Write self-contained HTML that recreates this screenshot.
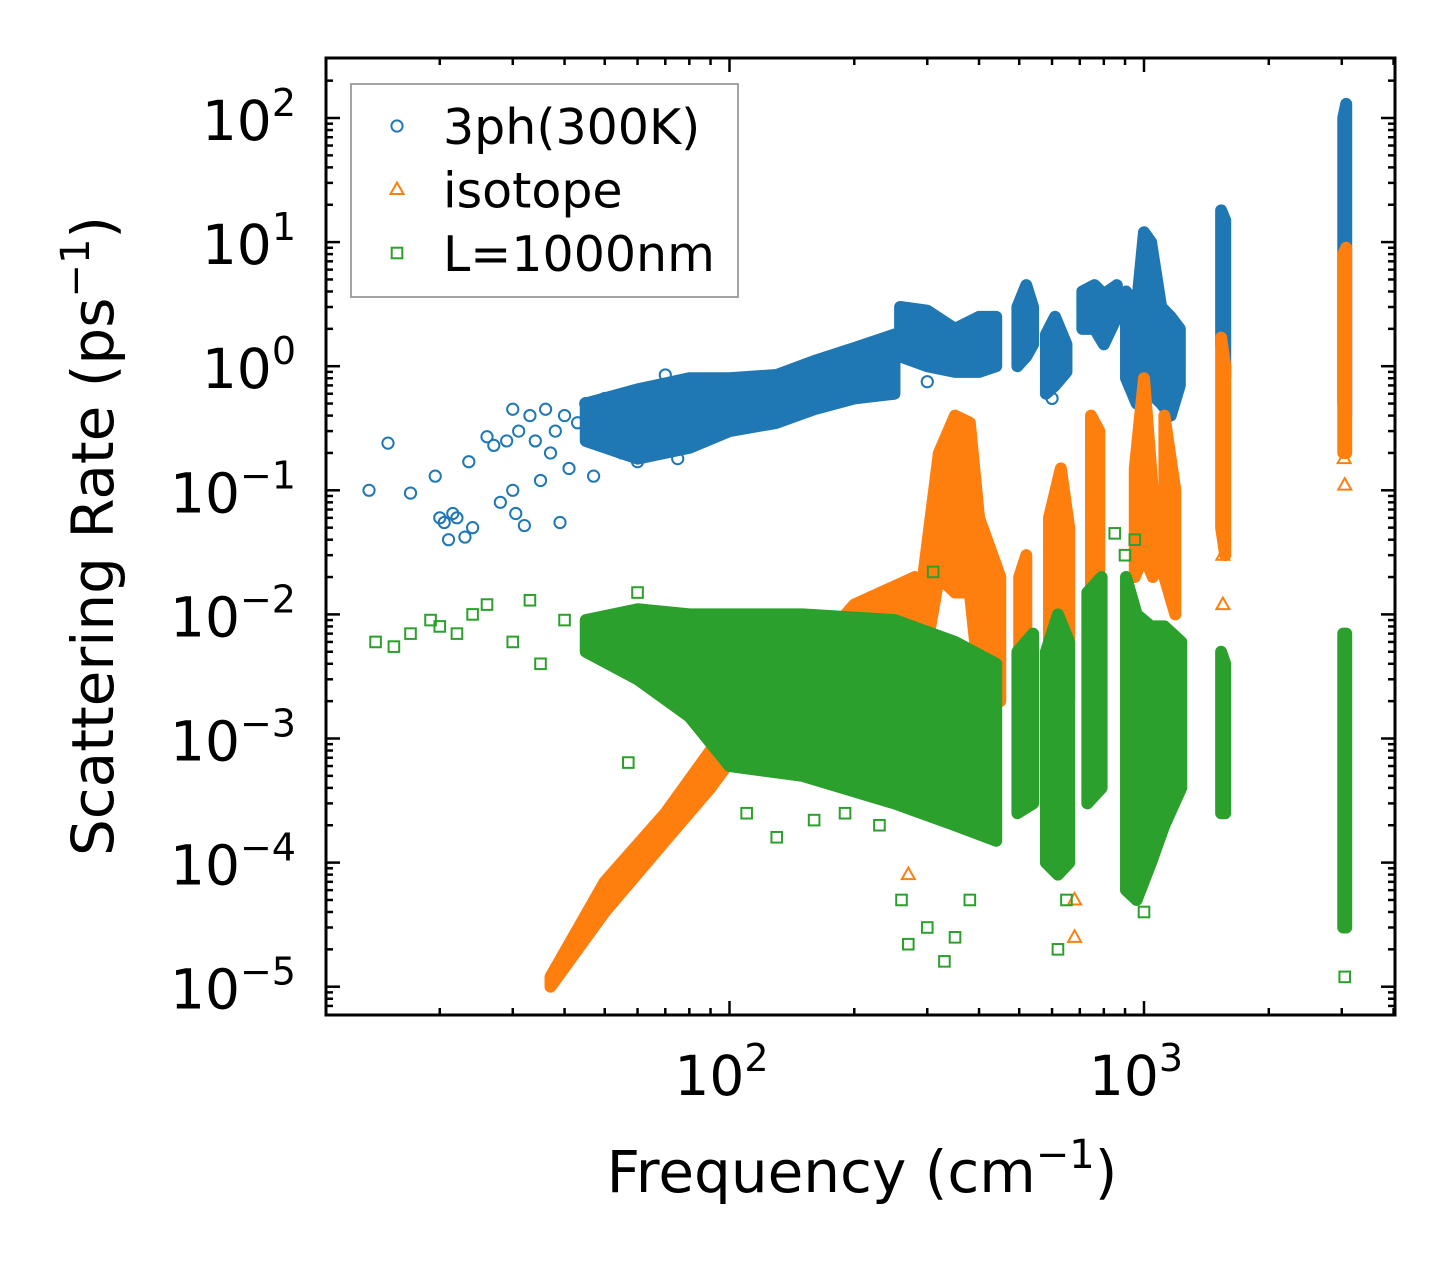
<!DOCTYPE html>
<html><head><meta charset="utf-8"><style>
html,body{margin:0;padding:0;background:#fff;}
svg{display:block;font-family:"DejaVu Sans","Liberation Sans",sans-serif;}
</style></head><body>
<svg id="chart" width="1455" height="1265" viewBox="0 0 1455 1265" xmlns="http://www.w3.org/2000/svg">
<rect x="0" y="0" width="1455" height="1265" fill="#fff"/>
<g id="plot"></g>
<g id="axes"></g>
</svg>
<script>
// ---- data (freq cm^-1, rate ps^-1) ----
const blueBands = [
 [[45,0.25,0.5],[60,0.18,0.65],[80,0.22,0.8],[100,0.3,0.8],[130,0.35,0.85],[160,0.45,1.1],[200,0.55,1.4],[250,0.6,1.8]],
 [[258,1.2,3.0],[300,1.0,2.8],[350,0.9,2.0],[400,0.9,2.5],[440,1.0,2.5]],
 [[495,1.0,3.0],[520,1.2,4.5],[540,1.5,3.0]],
 [[580,0.6,1.8],[610,0.7,2.5],[650,0.9,1.5]],
 [[710,2.0,4.0],[760,2.0,4.5],[800,1.5,3.8],[860,2.5,4.5]],
 [[905,0.8,4.0],[960,0.5,3.0],[1000,0.8,12],[1040,0.6,10],[1100,0.5,3.0],[1160,0.4,2.5],[1220,0.7,2.0]],
 [[1535,1.5,18],[1570,0.8,15]],
 [[3025,0.5,100],[3075,0.4,130]]
];
const bluePts = [[13.5,0.1],[15,0.24],[17,0.095],[19.5,0.13],[20,0.06],[20.5,0.055],[21,0.04],[21.5,0.065],[22,0.06],[23,0.042],[23.5,0.17],[24,0.05],[26,0.27],[27,0.23],[28,0.08],[29,0.25],[30,0.45],[30,0.1],[30.5,0.065],[31,0.3],[32,0.052],[33,0.4],[34,0.25],[35,0.12],[36,0.45],[37,0.2],[38,0.3],[39,0.055],[40,0.4],[41,0.15],[43,0.35],[45,0.5],[47,0.13],[50,0.55],[55,0.2],[60,0.17],[65,0.3],[70,0.85],[75,0.18],[90,0.3],[120,0.35],[300,0.75],[3050,0.45],[600,0.55]];
const orangeBands = [
 [[37,1.0e-5,1.2e-5],[50,4e-5,7e-5],[70,1.5e-4,2.5e-4],[90,4e-4,8e-4],[110,1e-3,1.8e-3],[150,2e-3,4e-3],[200,3e-3,1.2e-2],[280,3e-3,2e-2]],
 [[290,3e-3,1.5e-2],[320,2e-2,0.2],[350,1.5e-2,0.4],[380,1.5e-2,0.35],[400,3e-3,0.06],[450,2e-3,0.02]],
 [[500,3e-3,0.02],[520,2e-3,0.03]],
 [[590,2e-3,0.06],[630,3e-3,0.15],[660,2e-3,0.05]],
 [[745,0.01,0.4],[780,0.01,0.3]],
 [[950,0.02,0.15],[1000,0.03,0.8],[1050,0.02,0.1]],
 [[1120,0.02,0.4],[1190,0.01,0.1]],
 [[1535,0.05,1.7],[1570,0.03,1.0]],
 [[3025,0.2,8],[3075,0.2,9]]
];
const orangePts = [[680,2.5e-5],[680,5e-5],[1550,3e-2],[1550,1.2e-2],[3050,0.11],[270,8e-5],[1000,4.2e-2],[3040,0.18]];
const greenBands = [
 [[45,5e-3,9e-3],[60,3e-3,1.1e-2],[80,1.5e-3,1e-2],[100,6e-4,1e-2],[150,5e-4,1e-2],[250,3e-4,9e-3],[350,2e-4,6e-3],[440,1.5e-4,4e-3]],
 [[495,2.5e-4,5e-3],[540,3e-4,7e-3]],
 [[580,1e-4,5e-3],[620,8e-5,1e-2],[660,1e-4,6e-3]],
 [[730,3e-4,1.5e-2],[790,4e-4,2e-2]],
 [[905,6e-5,2e-2],[960,5e-5,1e-2],[1040,1e-4,8e-3],[1120,2e-4,8e-3],[1230,4e-4,6e-3]],
 [[1535,2.5e-4,5e-3],[1570,2.5e-4,4e-3]],
 [[3025,3e-5,7e-3],[3075,3e-5,7e-3]]
];
const greenPts = [[14,6e-3],[15.5,5.5e-3],[17,7e-3],[19,9e-3],[20,8e-3],[22,7e-3],[24,1e-2],[26,1.2e-2],[30,6e-3],[33,1.3e-2],[35,4e-3],[40,9e-3],[57,6.4e-4],[60,1.5e-2],[130,1.6e-4],[110,2.5e-4],[270,2.2e-5],[300,3e-5],[330,1.6e-5],[260,5e-5],[350,2.5e-5],[380,5e-5],[620,2e-5],[650,5e-5],[1000,4e-5],[3050,1.2e-5],[850,4.5e-2],[950,4e-2],[900,3e-2],[310,2.2e-2],[160,2.2e-4],[190,2.5e-4],[230,2e-4]];
const xTickExps = [2,3];
const yTickExps = [2,1,0,-1,-2,-3,-4,-5];
const legendLabels = ["3ph(300K)","isotope","L=1000nm"];

// ---- axes ----
const L=326,R=1395,T=58,B=1015;
const X2=729.5, XDEC=414.5, Y2=118, YDEC=124.1;
const xs = f => X2 + (Math.log10(f)-2)*XDEC;
const ys = v => Y2 - (Math.log10(v)-2)*YDEC;
const NS="http://www.w3.org/2000/svg";
const plot=document.getElementById('plot'), axes=document.getElementById('axes');
function mk(tag, attrs, parent){const e=document.createElementNS(NS,tag);for(const k in attrs)e.setAttribute(k,attrs[k]);parent.appendChild(e);return e;}
const colors=["#1f77b4","#ff7f0e","#2ca02c"];

const cp=mk('clipPath',{id:'clip'},plot);
mk('rect',{x:L,y:T,width:R-L,height:B-T},cp);
const data=mk('g',{'clip-path':'url(#clip)'},plot);

function marker(kind,x,y,c,parent){
  let e;
  if(kind===0) e=mk('circle',{cx:x,cy:y,r:5.6,fill:'none',stroke:c,'stroke-width':2},parent);
  else if(kind===1) e=mk('polygon',{points:`${x},${y-7} ${x+6.5},${y+4.5} ${x-6.5},${y+4.5}`,fill:'none',stroke:c,'stroke-width':2},parent);
  else e=mk('rect',{x:x-5.3,y:y-5.3,width:10.6,height:10.6,fill:'none',stroke:c,'stroke-width':2},parent);
  return e;
}
function drawSeries(bands,pts,kind,name){
  const g=mk('g',{},data);
  
  
  const c=colors[kind];
  bands.forEach((b,i)=>{
    const up=b.map(d=>xs(d[0])+','+ys(d[2]));
    const lo=b.slice().reverse().map(d=>xs(d[0])+','+ys(d[1]));
    const p=mk('polygon',{points:up.concat(lo).join(' '),fill:c,stroke:c,'stroke-width':12,'stroke-linejoin':'round'},g);
    
    
  });
  pts.forEach(d=>{
    const m=marker(kind,xs(d[0]),ys(d[1]),c,g);
    
    
  });
}
drawSeries(blueBands,bluePts,0,'3ph');
drawSeries(orangeBands,orangePts,1,'isotope');
drawSeries(greenBands,greenPts,2,'boundary');

// frame
const frame=mk('rect',{x:L,y:T,width:R-L,height:B-T,fill:'none',stroke:'#000','stroke-width':3},axes);


// x ticks
for(let e=1;e<=3;e++){for(let m=1;m<10;m++){const f=m*Math.pow(10,e);const x=xs(f);if(x<L+1||x>R-1)continue;const len=m===1?14:7;
  mk('line',{x1:x,y1:B,x2:x,y2:B-len,stroke:'#000','stroke-width':2.5},axes);
  mk('line',{x1:x,y1:T,x2:x,y2:T+len,stroke:'#000','stroke-width':2.5},axes);}}
xTickExps.forEach(e=>{const t=mk('text',{x:xs(Math.pow(10,e))-8,y:1095,'font-size':55,'text-anchor':'middle',fill:'#000'},axes);
  
  t.innerHTML='10<tspan dy="-24" font-size="38">'+e+'</tspan>';});
// y ticks
for(let e=-6;e<=2;e++){for(let m=1;m<10;m++){const v=m*Math.pow(10,e);const y=ys(v);if(y<T+1||y>B-1)continue;const len=m===1?14:7;
  mk('line',{x1:L,y1:y,x2:L+len,y2:y,stroke:'#000','stroke-width':2.5},axes);
  mk('line',{x1:R,y1:y,x2:R-len,y2:y,stroke:'#000','stroke-width':2.5},axes);}}
yTickExps.forEach(e=>{const s=e<0?'\u2212'+(-e):''+e;const t=mk('text',{x:296,y:ys(Math.pow(10,e))+22,'font-size':55,'text-anchor':'end',fill:'#000'},axes);
  
  t.innerHTML='10<tspan dy="-24" font-size="38">'+s+'</tspan>';});
// axis titles
const xt=mk('text',{x:862,y:1192,'font-size':58,'text-anchor':'middle',fill:'#000'},axes);

xt.innerHTML='Frequency (cm<tspan dy="-24" font-size="40">\u22121</tspan><tspan dy="24">)</tspan>';
const yt=mk('text',{x:0,y:0,'font-size':58,'text-anchor':'middle',fill:'#000',transform:'translate(113,536) rotate(-90)'},axes);

yt.innerHTML='Scattering Rate (ps<tspan dy="-24" font-size="40">\u22121</tspan><tspan dy="24">)</tspan>';
// legend
const lg=mk('g',{},axes);

mk('rect',{x:351,y:84,width:387,height:213,fill:'#fff','fill-opacity':0.8,stroke:'#999','stroke-width':1.8},lg);
legendLabels.forEach((s,i)=>{const y=126+i*63.5;
  marker(i,397,y,colors[i],lg);
  const t=mk('text',{x:443,y:y+18,'font-size':49,fill:'#000'},lg);
  t.textContent=s;
  
  });
</script>
</body></html>
